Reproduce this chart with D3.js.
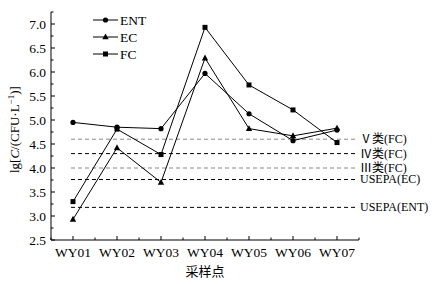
<!DOCTYPE html>
<html>
<head>
<meta charset="utf-8">
<script src="https://cdn.jsdelivr.net/npm/d3@7"></script>
<style>
  body { margin: 0; background: #fff; }
</style>
</head>
<body>
<svg id="chart" width="442" height="284"></svg>
<script>
// sampling sites
const sites = ["WY01", "WY02", "WY03", "WY04", "WY05", "WY06", "WY07"];
const entValues = [4.95, 4.85, 4.82, 5.97, 5.13, 4.57, 4.79];
const ecValues = [2.93, 4.42, 3.70, 6.29, 4.82, 4.67, 4.83];
const fcValues = [3.30, 4.81, 4.28, 6.93, 5.73, 5.21, 4.53];
const seriesNames = ["ENT", "EC", "FC"];
const seriesShapes = ["circle", "triangle", "square"];
// reference lines
const limitLabels = ["Ⅴ类(FC)", "Ⅳ类(FC)", "Ⅲ类(FC)", "USEPA(EC)", "USEPA(ENT)"];
const limitValues = [4.60, 4.30, 4.00, 3.76, 3.18];
const limitColors = ["#888", "#000", "#888", "#000", "#000"];
const yTicks = [2.5, 3.0, 3.5, 4.0, 4.5, 5.0, 5.5, 6.0, 6.5, 7.0];

const serifFont = '"Liberation Serif"';
const cjkFont = '"Liberation Serif", "Noto Sans CJK SC"';
const svg = d3.select("#chart");
const margin = {left: 51, right: 83, top: 12, bottom: 44};
const width = 442 - margin.left - margin.right;
const height = 284 - margin.top - margin.bottom;

const x = d3.scaleLinear().domain([0.5, sites.length + 0.5]).range([margin.left, margin.left + width]);
const y = d3.scaleLinear().domain([2.5, 7.25]).range([margin.top + height, margin.top]);

const g = svg.append("g");

// reference dashed lines
limitValues.forEach((v, i) => {
    g.append("line")
        .attr("x1", x(1) - 2).attr("x2", x(7.5) - 2)
        .attr("y1", y(v)).attr("y2", y(v))
        .attr("stroke", limitColors[i])
        .attr("stroke-width", 1)
        .attr("stroke-dasharray", "4,3");
    g.append("text")
        .attr("x", x(7.5) + 1)
        .attr("y", y(v))
        .attr("dy", "0.33em")
        .attr("font-size", 12)
        .style("font-family", cjkFont)
        .text(limitLabels[i]);
});

// y axis
const yAxis = g.append("g").attr("transform", `translate(${margin.left},0)`);
yAxis.append("line")
    .attr("x1", 0).attr("x2", 0)
    .attr("y1", y(2.5)).attr("y2", y(7.25))
    .attr("stroke", "#000");
d3.range(2.5, 7.26, 0.25).forEach(v => {
    const major = Math.abs(v * 2 - Math.round(v * 2)) < 1e-6;
    yAxis.append("line")
        .attr("x1", 0).attr("x2", major ? 4 : 2.5)
        .attr("y1", y(v)).attr("y2", y(v))
        .attr("stroke", "#000");
});
yAxis.selectAll("text.tick")
    .data(yTicks)
    .join("text")
    .attr("class", "tick")
    .attr("x", -5)
    .attr("y", d => y(d))
    .attr("dy", "0.35em")
    .attr("text-anchor", "end")
    .attr("font-size", 13.5)
    .style("font-family", serifFont)
    .text(d => d.toFixed(1));

// x axis
const xAxis = g.append("g");
xAxis.append("line")
    .attr("x1", x(0.5)).attr("x2", x(7.5))
    .attr("y1", y(2.5)).attr("y2", y(2.5))
    .attr("stroke", "#000");
d3.range(0.5, 7.6, 0.5).forEach(v => {
    const major = Number.isInteger(v);
    xAxis.append("line")
        .attr("x1", x(v)).attr("x2", x(v))
        .attr("y1", y(2.5)).attr("y2", y(2.5) - (major ? 4 : 2.5))
        .attr("stroke", "#000");
});
xAxis.selectAll("text.tick")
    .data(sites)
    .join("text")
    .attr("class", "tick")
    .attr("x", (d, i) => x(i + 1))
    .attr("y", y(2.5) + 17)
    .attr("text-anchor", "middle")
    .attr("font-size", 13.5)
    .style("font-family", serifFont)
    .text(d => d);

svg.append("text")
    .attr("x", x(4))
    .attr("y", 276)
    .attr("text-anchor", "middle")
    .attr("font-size", 13)
    .style("font-family", cjkFont)
    .text("采样点");

const yLabel = svg.append("text")
    .attr("transform", `translate(19,${y(4.8)}) rotate(-90)`)
    .attr("text-anchor", "middle")
    .attr("font-size", 13)
    .style("font-family", serifFont);
yLabel.append("tspan").text("lg[");
yLabel.append("tspan").attr("font-style", "italic").text("C");
yLabel.append("tspan").text("/(CFU·L");
yLabel.append("tspan").attr("dy", -5).attr("font-size", 9).text("−1");
yLabel.append("tspan").attr("dy", 5).text(")]");

// markers
function drawMarker(sel, shape, cx, cy) {
    if (shape === "circle") {
        sel.append("circle").attr("cx", cx).attr("cy", cy).attr("r", 2.6).attr("fill", "#000");
    } else if (shape === "square") {
        sel.append("rect").attr("x", cx - 2.5).attr("y", cy - 2.5).attr("width", 5).attr("height", 5).attr("fill", "#000");
    } else {
        sel.append("path")
            .attr("d", `M${cx},${cy - 3.5}L${cx + 3.2},${cy + 2.3}L${cx - 3.2},${cy + 2.3}Z`)
            .attr("fill", "#000");
    }
}

const allSeries = [entValues, ecValues, fcValues];
const line = d3.line().x((d, i) => x(i + 1)).y(d => y(d));
allSeries.forEach((vals, s) => {
    g.append("path")
        .attr("d", line(vals))
        .attr("fill", "none")
        .attr("stroke", "#000")
        .attr("stroke-width", 1);
    vals.forEach((v, i) => drawMarker(g, seriesShapes[s], x(i + 1), y(v)));
});

// legend
const legendY = [20, 37, 54];
seriesNames.forEach((name, i) => {
    const ly = legendY[i];
    g.append("line")
        .attr("x1", 93).attr("x2", 118)
        .attr("y1", ly).attr("y2", ly)
        .attr("stroke", "#000");
    drawMarker(g, seriesShapes[i], 105.5, ly);
    g.append("text")
        .attr("x", 120)
        .attr("y", ly)
        .attr("dy", "0.35em")
        .attr("font-size", 13.5)
        .style("font-family", serifFont)
        .text(name);
});
</script>
</body>
</html>
